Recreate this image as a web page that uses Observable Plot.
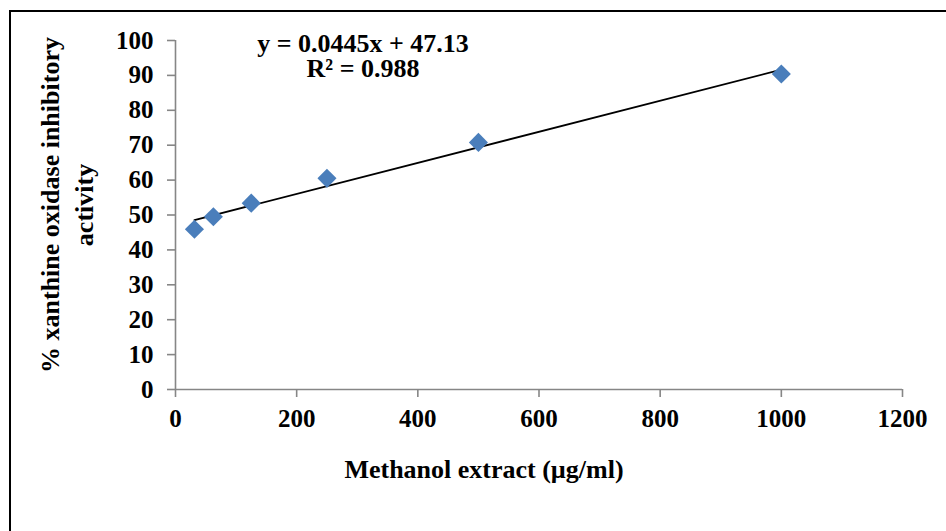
<!DOCTYPE html>
<html>
<head>
<meta charset="utf-8">
<script src="https://cdn.jsdelivr.net/npm/d3@7"></script>
<script src="https://cdn.jsdelivr.net/npm/@observablehq/plot@0.6"></script>
<style>
  html, body { margin: 0; padding: 0; background: #fff; overflow: hidden; }
  #wrap { position: relative; width: 946px; height: 531px; }
  #frame { position: absolute; left: 9px; top: 10px; width: 960px; height: 540px;
           border-left: 2.5px solid #000; border-top: 2.5px solid #000; pointer-events: none; }
  svg { display: block; }
</style>
</head>
<body>
<div id="wrap"><div id="frame"></div></div>
<script>
// Data
const concentrations = [31.25, 62.5, 125, 250, 500, 1000];        // Methanol extract (µg/ml)
const inhibition     = [45.9, 49.5, 53.4, 60.5, 70.8, 90.4];      // % xanthine oxidase inhibitory activity
const xTicks = [0, 200, 400, 600, 800, 1000, 1200];
const yTicks = [0, 10, 20, 30, 40, 50, 60, 70, 80, 90, 100];
const equationText = "y = 0.0445x + 47.13\nR² = 0.988";
const xTitle = "Methanol extract (µg/ml)";
const yTitle = "% xanthine oxidase inhibitory\nactivity";

const data = concentrations.map((x, i) => ({x, y: inhibition[i]}));
const axisGray = "#868686";
const font = "'Liberation Serif', 'Times New Roman', serif";

const chart = Plot.plot({
  width: 946,
  height: 531,
  marginLeft: 175,
  marginRight: 44,
  marginTop: 40,
  marginBottom: 142,
  style: {fontFamily: font, fontSize: "25px", fontWeight: "bold", color: "#000", background: "transparent", overflow: "visible"},
  x: {domain: [0, 1200]},
  y: {domain: [0, 100]},
  marks: [
    Plot.ruleX([0], {y1: 0, y2: 100, stroke: axisGray, strokeWidth: 1.6}),
    Plot.ruleY([0], {x1: 0, x2: 1200, stroke: axisGray, strokeWidth: 1.6}),
    Plot.axisY({ticks: yTicks, tickSize: 8, tickPadding: 14, stroke: axisGray, strokeWidth: 1.6, fill: "#000", fontSize: 25, label: null, tickFormat: d => String(d)}),
    Plot.axisX({ticks: xTicks, tickSize: 8, tickPadding: 12, stroke: axisGray, strokeWidth: 1.6, fill: "#000", fontSize: 25, label: null, tickFormat: d => String(d)}),
    Plot.linearRegressionY(data, {x: "x", y: "y", ci: 0, stroke: "#000", strokeWidth: 1.8}),
    Plot.dot(data, {x: "x", y: "y", symbol: "diamond2", r: 8.6, fill: "#4A7EBB", stroke: "none"}),
    Plot.text([equationText], {frameAnchor: "top", lineAnchor: "top", textAnchor: "middle", dx: -176, dy: -6, fontSize: 26, fontWeight: "bold", lineHeight: 0.95, fill: "#000"}),
    Plot.text([xTitle], {frameAnchor: "bottom", lineAnchor: "middle", textAnchor: "middle", dx: -55, dy: 80, fontSize: 26, fontWeight: "bold", fill: "#000"}),
    Plot.text([yTitle], {frameAnchor: "left", rotate: -90, lineAnchor: "middle", textAnchor: "middle", dx: -110, dy: -10, fontSize: 26, fontWeight: "bold", lineHeight: 1.3, fill: "#000"})
  ]
});
chart.style.position = "absolute";
chart.style.left = "0";
chart.style.top = "0";
document.getElementById("wrap").appendChild(chart);
</script>
</body>
</html>
